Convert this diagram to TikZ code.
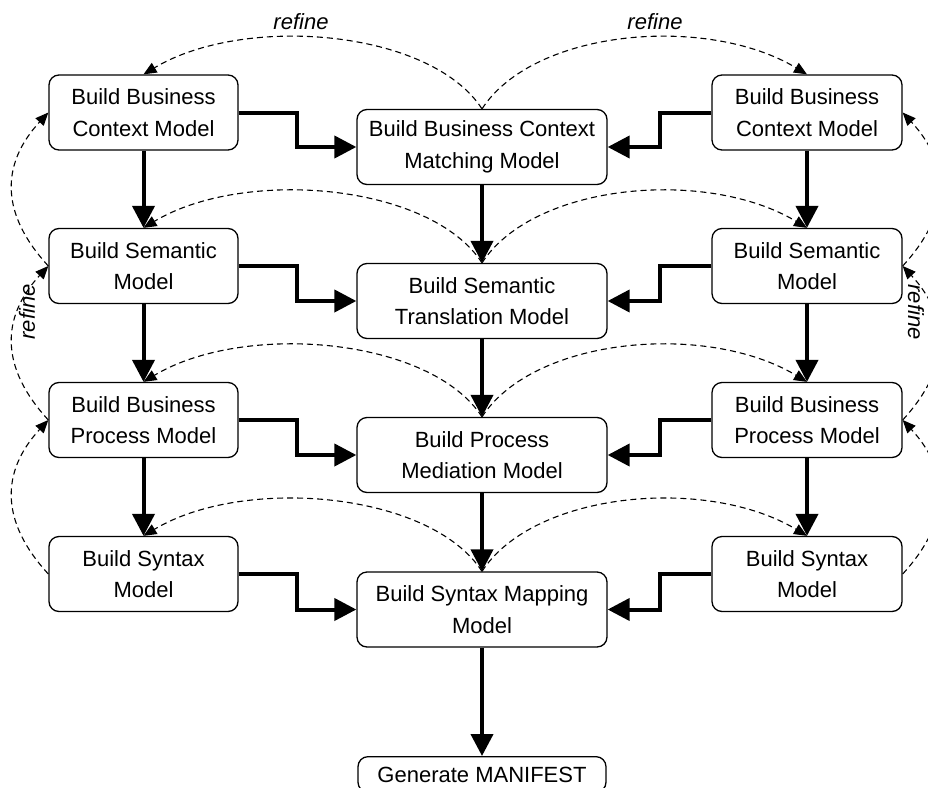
\documentclass[tikz,border=0pt]{standalone}
\usepackage{fontspec}
\setmainfont{Liberation Sans}
\usetikzlibrary{arrows.meta}
\begin{document}
\begin{tikzpicture}[x=1pt,y=-1pt,
  box/.style={draw, line width=1.3pt, rounded corners=10pt, minimum height=75pt,
    align=center, inner sep=0pt, font=\fontsize{22}{31.5}\selectfont},
  lbox/.style={box, minimum width=189pt},
  cbox/.style={box, minimum width=250pt},
  rbox/.style={box, minimum width=190pt},
  flow/.style={line width=4pt, -{Triangle[length=22pt,width=22pt]}},
  refarc/.style={line width=1.1pt, dash pattern=on 6pt off 4pt,
    -{Triangle[length=13pt,width=11pt]}},
  lbl/.style={font=\fontsize{22}{26}\selectfont\itshape, inner sep=0pt}]
\clip (0,0) rectangle (928,787);

% left column
\node[lbox] (L1) at (143.5,112.5) {Build Business\\Context Model};
\node[lbox] (L2) at (143.5,266) {Build Semantic\\Model};
\node[lbox] (L3) at (143.5,420) {Build Business\\Process Model};
\node[lbox] (L4) at (143.5,574) {Build Syntax\\Model};
% centre column
\node[cbox] (C1) at (482,147) {Build Business Context\\Matching Model};
\node[cbox] (C2) at (482,301) {Build Semantic\\Translation Model};
\node[cbox] (C3) at (482,455) {Build Process\\Mediation Model};
\node[cbox] (C4) at (482,609.5) {Build Syntax Mapping\\Model};
\node[box, minimum width=248pt, minimum height=0pt, inner xsep=0pt, inner ysep=10pt, anchor=north] (GM) at (482,756) {Generate MANIFEST};
% right column
\node[rbox] (R1) at (807,112.5) {Build Business\\Context Model};
\node[rbox] (R2) at (807,266) {Build Semantic\\Model};
\node[rbox] (R3) at (807,420) {Build Business\\Process Model};
\node[rbox] (R4) at (807,574) {Build Syntax\\Model};

\coordinate (sl) at (297,0);
\coordinate (sr) at (660,0);

% dashed refine arcs: centre to sides
\foreach \k in {1,2,3,4}{
  \draw[refarc] (C\k.north) .. controls +(-52,-80) and +(100,-60) .. (L\k.north);
  \draw[refarc] (C\k.north) .. controls +(52,-80) and +(-100,-60) .. (R\k.north);
}
% dashed refine arcs: along the sides
\foreach \a/\b in {2/1,3/2,4/3}{
  \draw[refarc] (L\a.west) .. controls +(-48,-52) and +(-48,52) .. (L\b.west);
  \draw[refarc] (R\a.east) .. controls +(48,-52) and +(48,52) .. (R\b.east);
}
\node[lbl] (t1) at (301,22) {refine};
\node[lbl] (t2) at (655,22) {refine};
\node[lbl, rotate=90] (t3) at (27,312) {refine};
\node[lbl, rotate=-90] (t4) at (916,312) {refine};

% vertical flows
\foreach \a/\b in {1/2,2/3,3/4}{
  \draw[flow] (L\a.south) -- (L\b.north);
  \draw[flow] (C\a.south) -- (C\b.north);
  \draw[flow] (R\a.south) -- (R\b.north);
}
\draw[flow] (C4.south) -- (GM.north);

% step connectors into the centre column
\foreach \k in {1,2,3,4}{
  \draw[flow] (L\k.east) -- (L\k.east -| sl) |- (C\k.west);
  \draw[flow] (R\k.west) -- (R\k.west -| sr) |- (C\k.east);
}
\end{tikzpicture}
\end{document}
